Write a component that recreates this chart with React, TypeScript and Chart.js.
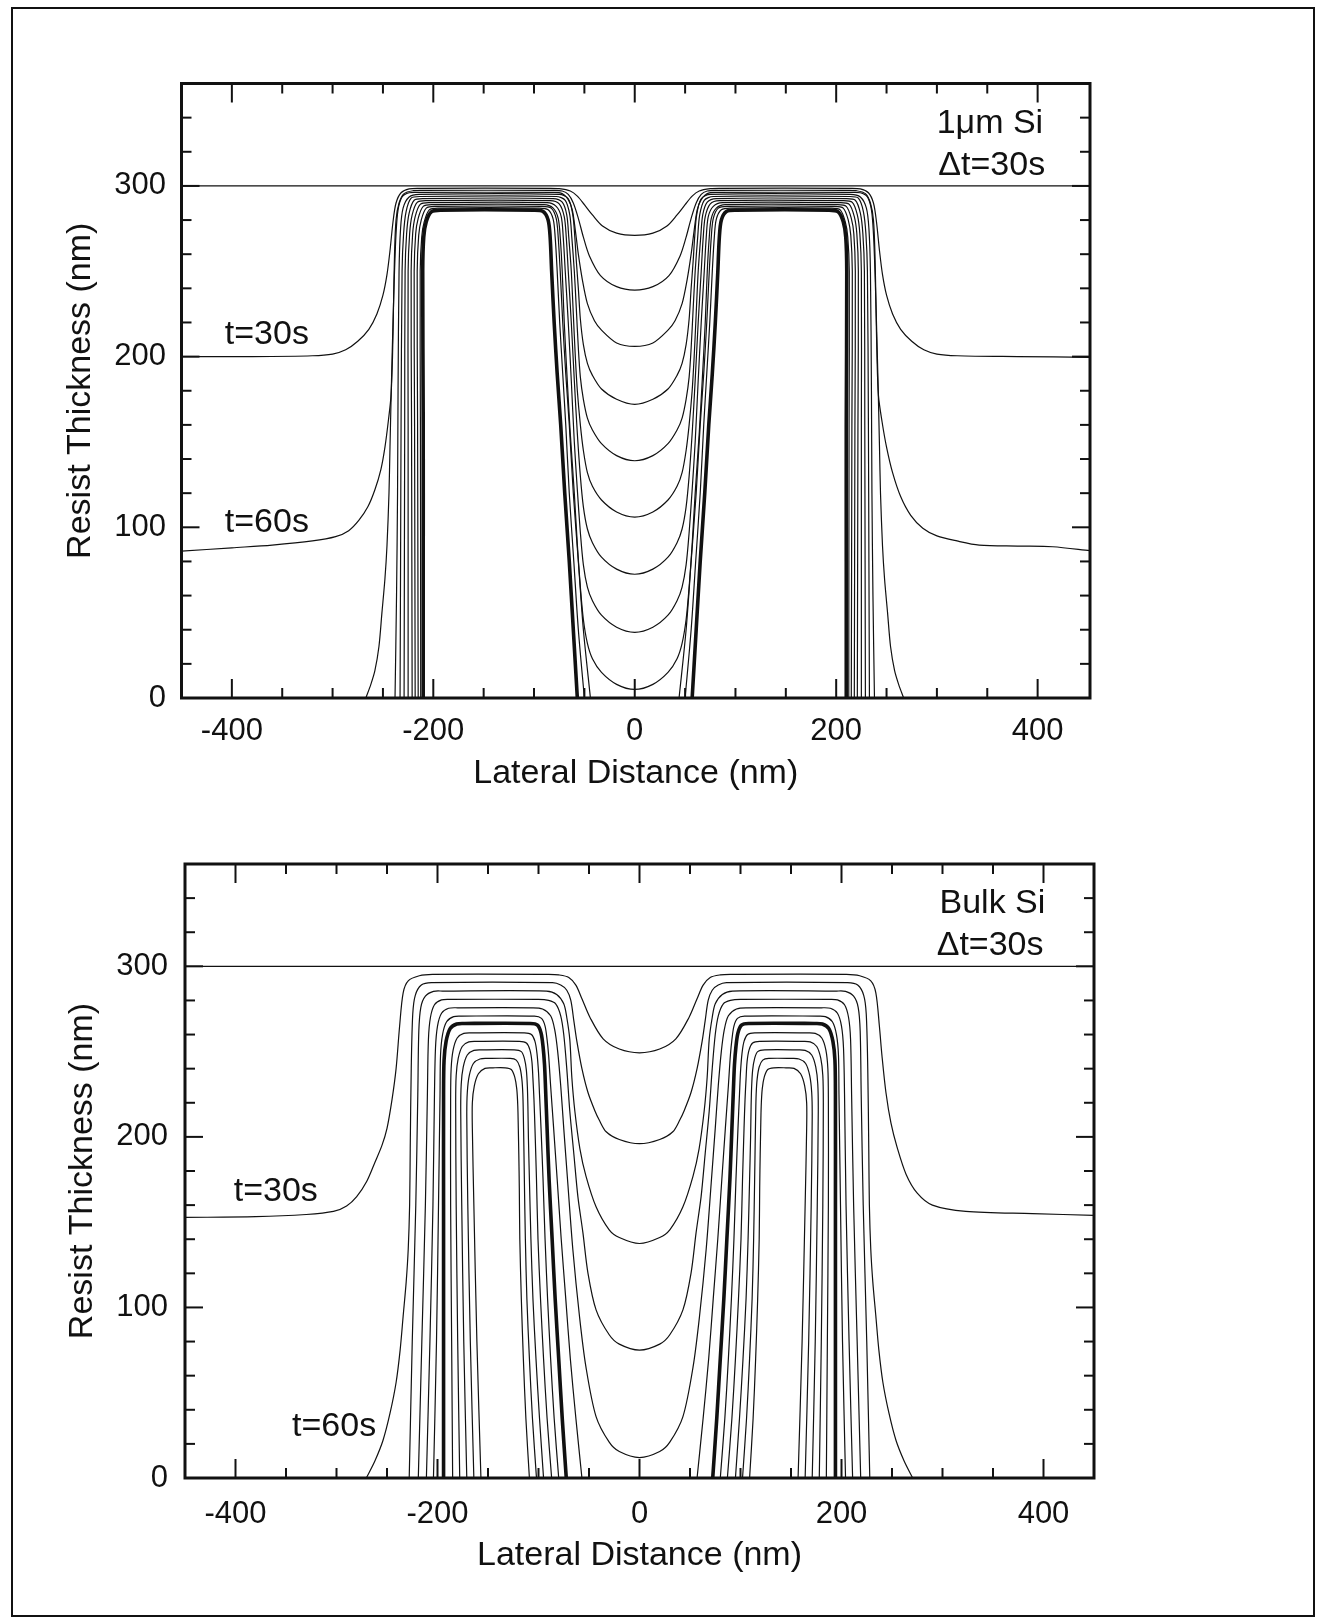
import React, { useEffect, useRef } from "react";
import { Chart, registerables } from "chart.js";

Chart.register(...registerables);

// ---------- axis ticks ----------
const X_TICKS = [-400, -200, 0, 200, 400];
const X_MINOR = [-350, -300, -250, -150, -100, -50, 50, 100, 150, 250, 300, 350];
const Y_TICKS = [0, 100, 200, 300];
const Y_MINOR = [20, 40, 60, 80, 120, 140, 160, 180, 220, 240, 260, 280, 320, 340];

// initial resist surface (t = 0)
const SURFACE_TOP = [-450, 300, 452, 300];
const SURFACE_BOT = [-450, 300, 450, 300];

// ---------- 1 µm Si : profiles every 30 s (x nm, thickness nm) ----------
const T1 = [-450,200, -380,200, -320,200.5, -300,201.5, -287,204, -275,209, -264,216, -256,225, -250,236, -246,248, -243,262, -240,279, -237,290, -232,296, -224,298.3, -212,298.6,
  -85,298.6, -75,298.4, -64,297, -57,294, -50,289, -42,283, -32,276.5, -18,272.3, 0,271,
  18,272.3, 32,276.5, 42,283, 50,289, 57,294, 64,297, 75,298.4, 85,298.6,
  212,298.6, 224,298.3, 232,296, 237,290, 240,279, 243,262, 246,248, 250,236, 256,225, 264,216, 275,209, 287,204, 300,201.5, 320,200.5, 380,200, 452,199.6];
const T2 = [-450,86, -400,88, -360,89.6, -320,92, -297,94.5, -284,98, -274,104, -265,112, -258,122, -252,134, -248,147, -244.5,163, -242,177, -240.5,200, -239.5,230, -238.5,260, -237,280, -234,290, -229,295.5, -220,297.2, -210,297.4,
  -80,297.4, -72,297, -66,295, -61,290, -56,281, -51,270, -45,259, -34,247.5, -18,241, 0,239,
  18,241, 34,247.5, 45,259, 51,270, 56,281, 61,290, 66,295, 72,297, 80,297.4,
  210,297.4, 220,297.2, 229,295.5, 234,290, 237,280, 238.5,260, 239.5,230, 240.5,200, 242,177, 245.5,162, 250,147, 256,132, 264,118, 274,107, 286,99.5, 300,95, 320,92, 342,89.6, 380,89, 415,88.6, 452,86.3];
const T3 = [-267,0, -262,8, -258,16, -254,30, -251,50, -248,70, -246,89, -244,120, -243,147, -241.5,186, -240,220, -238.5,250, -237,272, -235,286, -231,293.5, -224,296, -214,296.2,
  -80,296.2, -72,295.5, -66,292, -62,286, -59,274, -56,260, -52,245, -47,231, -40,221, -33,215.5, -18,208, 0,206,
  18,208, 33,215.5, 40,221, 47,231, 52,245, 56,260, 59,274, 62,286, 66,292, 72,295.5, 80,296.2,
  214,296.2, 224,296, 231,293.5, 235,286, 237,272, 238.5,250, 240,220, 241.5,186, 243,147, 244,120, 246,89, 248,70, 251,50, 254,30, 258,16, 262,8, 267,0];
const T4 = [-238,0, -236.5,60, -235.5,120, -235,180, -234,250, -232.5,275, -230,287, -224,293.5, -214,295,
  -75,295, -66,292.5, -61.5,283, -59.5,270, -58,256, -56,240, -54,222, -51,207, -47,196, -42,189, -33,181, -18,175, 0,172,
  18,175, 33,181, 42,189, 47,196, 51,207, 54,222, 56,240, 58,256, 59.5,270, 61.5,283, 66,292.5, 75,295,
  214,295, 224,293.5, 230,287, 232.5,275, 234,250, 235,180, 235.5,120, 236.5,60, 238,0];
const T5 = [-233,0, -232.5,80, -232,160, -231,250, -229.5,272, -227,285, -222,292.8, -213,293.8,
  -78,293.8, -69,291.5, -64.5,283, -62.5,270, -60,250, -58,228, -56,205, -54,188, -51,175, -47,164, -42,157, -33,149, -18,142, 0,139,
  18,142, 33,149, 42,157, 47,164, 51,175, 54,188, 56,205, 58,228, 60,250, 62.5,270, 64.5,283, 69,291.5, 78,293.8,
  213,293.8, 222,292.8, 227,285, 229.5,272, 231,250, 232,160, 232.5,80, 233,0];
const T6 = [-229,0, -228.7,80, -228.4,160, -228,250, -226.5,272, -224,284, -219,291.6, -210,292.6,
  -81,292.6, -72,290.5, -67.5,283, -65.5,270, -63,250, -61,225, -59,200, -57,180, -54,160, -51,145, -47,132, -42,124, -33,116, -18,109, 0,106,
  18,109, 33,116, 42,124, 47,132, 51,145, 54,160, 57,180, 59,200, 61,225, 63,250, 65.5,270, 67.5,283, 72,290.5, 81,292.6,
  210,292.6, 219,291.6, 224,284, 226.5,272, 228,250, 228.4,160, 228.7,80, 229,0];
const T7 = [-225,0, -225,80, -225,160, -225,250, -223.5,272, -221,283, -216,290.4, -207,291.4,
  -84,291.4, -75,289.5, -70,282, -68,270, -66,250, -63,220, -60,186, -57,155, -54,130, -51,112, -47,99, -42,91, -33,82.5, -18,75.5, 0,72.5,
  18,75.5, 33,82.5, 42,91, 47,99, 51,112, 54,130, 57,155, 60,186, 63,220, 66,250, 68,270, 70,282, 75,289.5, 84,291.4,
  207,291.4, 216,290.4, 221,283, 223.5,272, 225,250, 225,160, 225,80, 225,0];
const T8 = [-221,0, -221.3,80, -221.6,160, -222,250, -220.5,272, -218,282, -213,289.2, -204,290.2,
  -87,290.2, -78,288, -73,282, -71,270, -69,250, -66,220, -63,186, -60,150, -57,122, -54,97, -51,78, -47,65, -42,57, -33,48.5, -18,41.5, 0,38.5,
  18,41.5, 33,48.5, 42,57, 47,65, 51,78, 54,97, 57,122, 60,150, 63,186, 66,220, 69,250, 71,270, 73,282, 78,288, 87,290.2,
  204,290.2, 213,289.2, 218,282, 220.5,272, 222,250, 221.6,160, 221.3,80, 221,0];
const T9 = [-218,0, -218.3,80, -218.6,160, -219,250, -217.5,272, -215,281, -210,288, -201,289,
  -90,289, -81,287, -76,281, -74,270, -72,250, -70,220, -67,186, -64,155, -60,120, -57,90, -54,65, -51,46, -47,32, -42,23, -33,15, -18,8, 0,5,
  18,8, 33,15, 42,23, 47,32, 51,46, 54,65, 57,90, 60,120, 64,155, 67,186, 70,220, 72,250, 74,270, 76,281, 81,287, 90,289,
  201,289, 210,288, 215,281, 217.5,272, 219,250, 218.6,160, 218.3,80, 218,0];
const T10L = [-215,0, -215.3,80, -215.6,160, -216,250, -214.5,271, -212,280, -207,287, -198,288, -92,288, -83,287, -78,281, -76,270, -74,250, -71.5,220, -68.5,190, -65,160, -61,120, -56,80, -51,40, -44,0];
const T10R = [44,0, 51,40, 56,80, 61,120, 65,160, 68.5,190, 71.5,220, 74,250, 76,270, 78,281, 83,287, 92,288, 198,288, 207,287, 212,280, 214.5,271, 216,250, 215.6,160, 215.3,80, 215,0];
const T11L = [-212.5,0, -212.6,80, -212.8,160, -213,250, -211.5,270, -209,279, -204,286, -195,287, -95,287, -86,286, -81,280.5, -79,270, -77,250, -74.5,220, -71.5,190, -68.5,160, -65,120, -60.5,80, -56,40, -50,0];
const T11R = [50,0, 56,40, 60.5,80, 65,120, 68.5,160, 71.5,190, 74.5,220, 77,250, 79,270, 81,280.5, 86,286, 95,287, 195,287, 204,286, 209,279, 211.5,270, 213,250, 212.8,160, 212.6,80, 212.5,0];
const T12L = [-210,0, -210,80, -210,160, -210.5,250, -209.5,270, -207,279, -202,284.8, -193,285.8, -100,285.8, -91,285, -86,280, -84,270, -82.5,250, -80,220, -77,190, -73.5,160, -69.5,120, -65,80, -61,40, -57,0];
const T12R = [57,0, 61,40, 65,80, 69.5,120, 73.5,160, 77,190, 80,220, 82.5,250, 84,270, 86,280, 91,285, 100,285.8, 193,285.8, 202,284.8, 207,279, 209.5,270, 210.5,250, 210,160, 210,80, 210,0];

// ---------- Bulk Si : profiles every 30 s ----------
const B1 = [-450,152.8, -380,153.2, -330,154.5, -303,156.3, -290,159.5, -280,165, -270,174, -262,185, -255,195, -250,205, -245,222, -241,240, -237.5,265, -234,284.5, -229,291.5, -218,294.5, -205,295.3,
  -90,295.3, -80,295, -70,293.5, -63,289, -57,281, -49,270, -36,257.5, -20,251.5, 0,249.3,
  20,251.5, 36,257.5, 49,270, 57,281, 63,289, 70,293.5, 80,295, 90,295.3,
  205,295.3, 218,294.5, 229,291.5, 234,284.5, 237.5,265, 240,248, 244,226, 249,208, 255,194, 264,178, 275,167, 290,160, 323,156.3, 389,155, 450,154];
const B2 = [-270.5,0, -262,10, -254,22, -247,38, -241,56, -237,75, -234,95, -231,115, -229,134, -227.6,160, -227,193, -226,240, -224.5,272, -222,283, -216,289, -206,290.4,
  -86,290.4, -78,289, -72,286, -68,280, -65,268, -62,256, -57,240, -51,226, -44,215, -40,210, -33,203, -20,198.5, 0,196,
  20,198.5, 33,203, 40,210, 44,215, 51,226, 57,240, 62,256, 65,268, 68,280, 72,286, 78,289, 86,290.4,
  206,290.4, 216,289, 222,283, 224.5,272, 226,240, 227,193, 227.6,160, 229,134, 231,115, 234,95, 237,75, 241,56, 247,38, 254,22, 262,10, 270.5,0];
const B3 = [-228,0, -225,80, -221.5,160, -219.5,225, -218.5,262, -216.5,276, -212,282.5, -204,285.3, -195,285.5,
  -92,285.5, -82,283.5, -75,278, -72,270, -69,257, -67,235, -64,215, -59,193, -53,177, -43,159, -30,145.5, -20,141, 0,137.5,
  20,141, 30,145.5, 43,159, 53,177, 59,193, 64,215, 67,235, 69,257, 72,270, 75,278, 82,283.5, 92,285.5,
  195,285.5, 204,285.3, 212,282.5, 216.5,276, 218.5,262, 219.5,225, 221.5,160, 225,80, 228,0];
const B4 = [-219,0, -215.5,80, -212,160, -210,225, -209,257, -207,270, -203,277.5, -196,280.3, -187,280.6,
  -100,280.6, -90,280, -83,278, -78,271, -75,260, -72,240, -69,215, -65,190, -61,165, -56,143.7, -51,120, -43,98.6, -30,84, -20,78.5, 0,75,
  20,78.5, 30,84, 43,98.6, 51,120, 56,143.7, 61,165, 65,190, 69,215, 72,240, 75,260, 78,271, 83,278, 90,280, 100,280.6,
  187,280.6, 196,280.3, 203,277.5, 207,270, 209,257, 210,225, 212,160, 215.5,80, 219,0];
const B5 = [-211,0, -207.5,80, -204.5,160, -203,225, -202,252, -200,265, -196,272.5, -189,275.4, -180,275.7,
  -106,275.7, -96,275, -88,271, -84,263, -81,250, -78,230, -75,205, -71,173, -66,134, -59.4,94.7, -53,65, -43,36, -30,21, -20,15.5, 0,12,
  20,15.5, 30,21, 43,36, 53,65, 59.4,94.7, 66,134, 71,173, 75,205, 78,230, 81,250, 84,263, 88,271, 96,275, 106,275.7,
  180,275.7, 189,275.4, 196,272.5, 200,265, 202,252, 203,225, 204.5,160, 207.5,80, 211,0];
const B6L = [-204,0, -201,80, -199,160, -197.5,225, -197,248, -195,260, -191,267.5, -184,270.5, -176,270.8, -104,270.8, -97,269.5, -93.5,265, -91.5,257, -90,248, -88,230, -85,205, -81.5,175, -77.5,140, -73,105, -68.5,70, -63,35, -57,0];
const B6R = [57,0, 63,35, 68.5,70, 73,105, 77.5,140, 81.5,175, 85,205, 88,230, 90,248, 91.5,257, 93.5,265, 97,269.5, 104,270.8, 176,270.8, 184,270.5, 191,267.5, 195,260, 197,248, 197.5,225, 199,160, 201,80, 204,0];
const B7L = [-194,0, -194,80, -194,160, -194,225, -193.5,245, -191.5,256, -187.5,263.5, -181,266.2, -173,266.5, -108,266.5, -101,265.5, -97.5,261, -95.5,253, -94,242, -93,228, -91.5,205, -89.5,175, -86.5,140, -83.5,105, -80,70, -76.5,35, -72.5,0];
const B7R = [72.5,0, 76.5,35, 80,70, 83.5,105, 86.5,140, 89.5,175, 91.5,205, 93,228, 94,242, 95.5,253, 97.5,261, 101,265.5, 108,266.5, 173,266.5, 181,266.2, 187.5,263.5, 191.5,256, 193.5,245, 194,225, 194,160, 194,80, 194,0];
const B8L = [-185,0, -186,80, -187,160, -187,222, -186.5,240, -184.5,251, -180.5,258, -174,260.7, -166,261, -114,261, -107,260, -103.5,256, -101.5,249, -100,238, -99,225, -97.5,205, -95.5,175, -93.5,140, -91,105, -88,70, -84.5,35, -80,0];
const B8R = [80,0, 84.5,35, 88,70, 91,105, 93.5,140, 95.5,175, 97.5,205, 99,225, 100,238, 101.5,249, 103.5,256, 107,260, 114,261, 166,261, 174,260.7, 180.5,258, 184.5,251, 186.5,240, 187,222, 187,160, 186,80, 185,0];
const B9L = [-178,0, -180,80, -181.5,160, -182,220, -181.5,236, -179.5,246, -175.5,253, -169,255.7, -161,256, -119,256, -112,255, -108.5,251, -106.5,244, -105.5,234, -104.5,222, -103.5,205, -102,175, -100.5,140, -98,105, -95,70, -91.5,35, -87,0];
const B9R = [87,0, 91.5,35, 95,70, 98,105, 100.5,140, 102,175, 103.5,205, 104.5,222, 105.5,234, 106.5,244, 108.5,251, 112,255, 119,256, 161,256, 169,255.7, 175.5,253, 179.5,246, 181.5,236, 182,220, 181.5,160, 180,80, 178,0];
const B10L = [-171,0, -174,80, -176,160, -177,215, -176.5,231, -174.5,241, -170.5,248, -164,250.7, -156,251, -124,251, -117,250, -114,246, -112,239, -111,229, -110.5,218, -110,200, -109,175, -107.5,140, -105.5,105, -102.5,70, -99,35, -95,0];
const B10R = [95,0, 99,35, 102.5,70, 105.5,105, 107.5,140, 109,175, 110,200, 110.5,218, 111,229, 112,239, 114,246, 117,250, 124,251, 156,251, 164,250.7, 170.5,248, 174.5,241, 176.5,231, 177,215, 176,160, 174,80, 171,0];
const B11L = [-164,0, -167.5,80, -170,160, -171,212, -170.5,226, -168.5,236, -164.5,243, -158,245.7, -150,246, -128,246, -122,245, -118.5,241, -116.5,234, -115.5,225, -115,212, -114.5,195, -114,175, -113,140, -111.5,105, -109,70, -106,35, -102,0];
const B11R = [102,0, 106,35, 109,70, 111.5,105, 113,140, 114,175, 114.5,195, 115,212, 115.5,225, 116.5,234, 118.5,241, 122,245, 128,246, 150,246, 158,245.7, 164.5,243, 168.5,236, 170.5,226, 171,212, 170,160, 167.5,80, 164,0];
const B12L = [-157,0, -161,80, -164,160, -165.5,205, -165.5,220, -163.5,230, -159.5,237, -153,240.2, -145,240.5, -133,240.5, -127,239.5, -123.5,235, -121.5,228, -120.5,218, -120,205, -119.5,190, -119,170, -118.5,140, -117,105, -115,70, -112.5,35, -109,0];
const B12R = [109,0, 112.5,35, 115,70, 117,105, 118.5,140, 119,170, 119.5,190, 120,205, 120.5,218, 121.5,228, 123.5,235, 127,239.5, 133,240.5, 145,240.5, 153,240.2, 159.5,237, 163.5,230, 165.5,220, 165.5,205, 164,160, 161,80, 157,0];

const TOP_THIN = [T1, T2, T3, T4, T5, T6, T7, T8, T9, T10L, T10R, T11L, T11R];
const TOP_THICK = [T12L, T12R];
const BOT_THIN = [B1, B2, B3, B4, B5, B6L, B6R, B8L, B8R, B9L, B9R, B10L, B10R, B11L, B11R, B12L, B12R];
const BOT_THICK = [B7L, B7R];

// ---------- styling ----------
const FONT = '"Liberation Sans", Arial, Helvetica, sans-serif';
const INK = "#111";

type Label = { text: string; x: number; y: number; align: CanvasTextAlign };
type Panel = {
  top: number;
  xMax: number;
  surface: number[];
  thin: number[][];
  thick: number[][];
  pad: { left: number; top: number; right: number; bottom: number };
  yAxisW: number;
  xAxisH: number;
  yTickPad: number;
  xTickPad: number;
  labels: Label[];
};

const toPts = (flat: number[]) => {
  const out: { x: number; y: number }[] = [];
  for (let i = 0; i < flat.length; i += 2) out.push({ x: flat[i], y: flat[i + 1] });
  return out;
};

const framePlugin = {
  id: "frameTicks",
  afterDatasetsDraw(chart: any) {
    const { ctx, chartArea: a, scales } = chart;
    const xs = scales.x;
    const ys = scales.y;
    ctx.save();
    ctx.strokeStyle = INK;
    ctx.lineCap = "butt";
    ctx.lineWidth = 2;
    const tick = (x1: number, y1: number, x2: number, y2: number) => {
      ctx.beginPath();
      ctx.moveTo(x1, y1);
      ctx.lineTo(x2, y2);
      ctx.stroke();
    };
    const xs2 = [...X_TICKS.map((v) => [v, 19]), ...X_MINOR.map((v) => [v, 10])];
    for (const [v, len] of xs2) {
      const p = xs.getPixelForValue(v);
      tick(p, a.bottom, p, a.bottom - len);
      tick(p, a.top, p, a.top + len);
    }
    const ys2 = [...Y_TICKS.map((v) => [v, 18]), ...Y_MINOR.map((v) => [v, 10])];
    for (const [v, len] of ys2) {
      const p = ys.getPixelForValue(v);
      tick(a.left, p, a.left + len, p);
      tick(a.right, p, a.right - len, p);
    }
    ctx.lineWidth = 3;
    ctx.strokeRect(a.left, a.top, a.right - a.left, a.bottom - a.top);
    ctx.restore();
  },
};

const makeLabelPlugin = (labels: Label[]) => ({
  id: "panelLabels",
  afterDraw(chart: any) {
    const { ctx, scales } = chart;
    ctx.save();
    ctx.fillStyle = INK;
    ctx.font = `34px ${FONT}`;
    ctx.textBaseline = "middle";
    for (const l of labels) {
      ctx.textAlign = l.align;
      ctx.fillText(l.text, scales.x.getPixelForValue(l.x), scales.y.getPixelForValue(l.y));
    }
    ctx.restore();
  },
});

const PANELS: Panel[] = [
  {
    top: 0,
    xMax: 452,
    surface: SURFACE_TOP,
    thin: TOP_THIN,
    thick: TOP_THICK,
    pad: { left: 60.6, top: 83.5, right: 229, bottom: 17.6 },
    yAxisW: 120.9,
    xAxisH: 96.4,
    yTickPad: 15.5,
    xTickPad: 15,
    labels: [
      { text: "1\u03bcm Si", x: 405.5, y: 336.5, align: "right" },
      { text: "\u0394t=30s", x: 407.5, y: 312, align: "right" },
      { text: "t=30s", x: -407, y: 212.7, align: "left" },
      { text: "t=60s", x: -407, y: 102.5, align: "left" },
    ],
  },
  {
    top: 812,
    xMax: 450,
    surface: SURFACE_BOT,
    thin: BOT_THIN,
    thick: BOT_THICK,
    pad: { left: 62.6, top: 52, right: 225, bottom: 47.6 },
    yAxisW: 122.4,
    xAxisH: 98.4,
    yTickPad: 17,
    xTickPad: 18,
    labels: [
      { text: "Bulk Si", x: 401.8, y: 336.5, align: "right" },
      { text: "\u0394t=30s", x: 400, y: 312, align: "right" },
      { text: "t=30s", x: -401.8, y: 168, align: "left" },
      { text: "t=60s", x: -344, y: 30, align: "left" },
    ],
  },
];

function PanelChart({ panel }: { panel: Panel }) {
  const ref = useRef<HTMLCanvasElement | null>(null);
  useEffect(() => {
    if (!ref.current) return;
    const line = (flat: number[], w: number) => ({
      data: toPts(flat),
      showLine: true,
      borderColor: INK,
      borderWidth: w,
      pointRadius: 0,
      pointHoverRadius: 0,
      tension: 0.3,
      fill: false,
      borderJoinStyle: "round" as const,
    });
    const datasets = [
      line(panel.surface, 1.3),
      ...panel.thin.map((c) => line(c, 1.2)),
      ...panel.thick.map((c) => line(c, 3.6)),
    ];
    const chart = new Chart(ref.current, {
      type: "scatter",
      data: { datasets },
      options: {
        animation: false,
        responsive: false,
        maintainAspectRatio: false,
        events: [],
        layout: { padding: panel.pad },
        plugins: { legend: { display: false }, tooltip: { enabled: false } },
        scales: {
          x: {
            type: "linear",
            min: -450,
            max: panel.xMax,
            grid: { display: false, drawTicks: false },
            border: { display: false },
            ticks: {
              font: { family: FONT, size: 31 },
              color: INK,
              padding: panel.xTickPad,
              maxRotation: 0,
              callback: (v: any) => String(v),
            },
            title: {
              display: true,
              text: "Lateral Distance (nm)",
              font: { family: FONT, size: 34 },
              color: INK,
              padding: 0,
            },
            afterBuildTicks: (s: any) => {
              s.ticks = X_TICKS.map((v) => ({ value: v }));
            },
            afterFit: (s: any) => {
              s.height = panel.xAxisH;
            },
          },
          y: {
            type: "linear",
            min: 0,
            max: 360,
            grid: { display: false, drawTicks: false },
            border: { display: false },
            ticks: {
              font: { family: FONT, size: 31 },
              color: INK,
              padding: panel.yTickPad,
              callback: (v: any) => String(v),
            },
            title: {
              display: true,
              text: "Resist Thickness (nm)",
              font: { family: FONT, size: 34 },
              color: INK,
              padding: 0,
            },
            afterBuildTicks: (s: any) => {
              s.ticks = Y_TICKS.map((v) => ({ value: v }));
            },
            afterFit: (s: any) => {
              s.width = panel.yAxisW;
            },
          },
        },
      } as any,
      plugins: [framePlugin, makeLabelPlugin(panel.labels)],
    });
    return () => chart.destroy();
  }, [panel]);
  return (
    <canvas
      ref={ref}
      width={1319}
      height={812}
      style={{ position: "absolute", left: 0, top: panel.top, width: 1319, height: 812 }}
    />
  );
}

export default function App() {
  return (
    <div
      style={{
        position: "absolute",
        left: 0,
        top: 0,
        width: 1319,
        height: 1624,
        background: "#fff",
        overflow: "hidden",
      }}
    >
      <div
        style={{
          position: "absolute",
          left: 11,
          top: 7,
          width: 1304,
          height: 1610,
          border: "2px solid #111",
          boxSizing: "border-box",
        }}
      />
      {PANELS.map((p, i) => (
        <PanelChart key={i} panel={p} />
      ))}
    </div>
  );
}
